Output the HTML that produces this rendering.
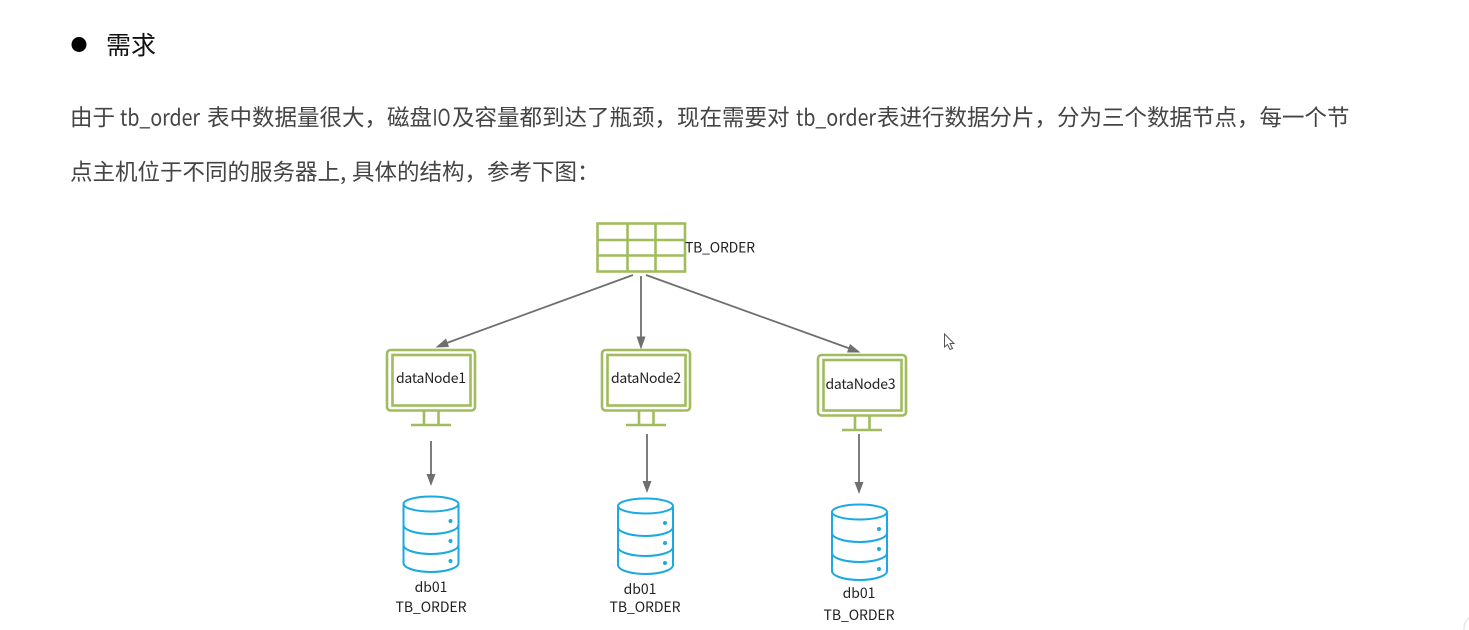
<!DOCTYPE html>
<html lang="zh">
<head>
<meta charset="utf-8">
<title>需求</title>
<style>
html,body{margin:0;padding:0;background:#fff;width:1469px;height:630px;overflow:hidden}
svg{display:block;filter:blur(.35px)}
text{font-family:"Noto Sans CJK SC","Liberation Sans",sans-serif}
.p{font-size:22.5px;fill:#444}
.l{font-size:14px;fill:#222}
.n{font-size:14px;fill:#222;text-anchor:middle}
.g{fill:none;stroke:#a1bc5e;stroke-width:2.6}
.a{stroke:#6f6f6f;stroke-width:1.8;fill:none}
.h{fill:#6f6f6f}
.c{fill:none;stroke:#1ba9e1;stroke-width:2}
.d{fill:#1ba9e1}
</style>
</head>
<body>
<svg width="1469" height="630" viewBox="0 0 1469 630" xmlns="http://www.w3.org/2000/svg">
<defs>
<g id="mon">
  <rect x="1" y="1" width="88" height="60.5" rx="3.5" class="g" fill="#fff"/>
  <rect x="6.5" y="6" width="78" height="50.5" class="g"/>
  <path d="M38 62V75.5M52.5 62V75.5M25 76H65" class="g"/>
</g>
<g id="cyl">
  <ellipse cx="28" cy="8" rx="27.500" ry="7.500" class="c"/>
  <path d="M.5 8V67C.5 72 13 76 28 76S55.500 72 55.500 67V8" class="c"/>
  <path d="M.5 29C.5 34 13 38 28 38S55.500 34 55.500 29" class="c"/>
  <path d="M.5 49C.5 54 13 58 28 58S55.500 54 55.500 49" class="c"/>
  <circle cx="47.500" cy="25" r="2" class="d"/>
  <circle cx="47.500" cy="45" r="2" class="d"/>
  <circle cx="47.500" cy="65" r="2" class="d"/>
</g>
</defs>

<circle cx="79" cy="44.500" r="7.500" fill="#000"/>
<text x="106" y="54" font-size="25" fill="#111" textLength="50" lengthAdjust="spacing">需求</text>

<!-- line 1 -->
<text class="p" x="70" y="125.500">由于</text>
<text class="p" x="120" y="125.500" textLength="80" lengthAdjust="spacingAndGlyphs">tb_order</text>
<text class="p" x="207" y="125.500">表中数据量很大，磁盘</text>
<text class="p" x="432.500" y="125.500" textLength="18" lengthAdjust="spacingAndGlyphs">IO</text>
<text class="p" x="452" y="125.500">及容量都到达了瓶颈，现在需要对</text>
<text class="p" x="796" y="125.500" textLength="80" lengthAdjust="spacingAndGlyphs">tb_order</text>
<text class="p" x="877" y="125.500">表进行数据分片，分为三个数据节点，每一个节</text>

<!-- line 2 -->
<text class="p" x="70" y="180">点主机位于不同的服务器上</text>
<text class="p" x="340" y="180">,</text>
<text class="p" x="352" y="180">具体的结构，参考下图：</text>

<!-- table -->
<rect x="597.500" y="223.500" width="87.500" height="48" class="g"/>
<path d="M627.500 223.500V271.500M655.500 223.500V271.500M597.500 240H685M597.500 255.500H685" class="g"/>
<text class="l" x="685" y="252.500" textLength="70" lengthAdjust="spacing">TB_ORDER</text>

<!-- upper connectors -->
<path d="M633 275L444 344" class="a"/>
<path d="M435.500 347.500L446 338.500L449 347Z" class="h"/>
<path d="M641 276V338" class="a"/>
<path d="M641 349.500L636.500 336.500H645.500Z" class="h"/>
<path d="M646 275L851 349" class="a"/>
<path d="M860.500 352.500L847 352.500L850 344Z" class="h"/>

<!-- monitors -->
<use href="#mon" x="386" y="349"/>
<use href="#mon" x="601" y="349"/>
<use href="#mon" x="817" y="354"/>
<text class="n" x="431" y="383" textLength="70" lengthAdjust="spacing">dataNode1</text>
<text class="n" x="646" y="383" textLength="70" lengthAdjust="spacing">dataNode2</text>
<text class="n" x="860.500" y="389" textLength="70" lengthAdjust="spacing">dataNode3</text>

<!-- lower connectors -->
<path d="M431 441V476" class="a"/><path d="M431 486L426.500 474H435.500Z" class="h"/>
<path d="M647 434V483" class="a"/><path d="M647 493L642.500 481H651.500Z" class="h"/>
<path d="M859 434V484" class="a"/><path d="M859 494L854.500 482H863.500Z" class="h"/>

<!-- databases -->
<use href="#cyl" x="403" y="496"/>
<use href="#cyl" x="617.500" y="498"/>
<use href="#cyl" x="831.500" y="504"/>

<text class="n" x="431" y="592">db01</text>
<text class="n" x="431" y="612" textLength="71" lengthAdjust="spacing">TB_ORDER</text>
<text class="n" x="640" y="594">db01</text>
<text class="n" x="645" y="612" textLength="71" lengthAdjust="spacing">TB_ORDER</text>
<text class="n" x="859" y="598">db01</text>
<text class="n" x="859" y="620" textLength="71" lengthAdjust="spacing">TB_ORDER</text>

<!-- cursor -->
<path d="M944.500 334V347L947.500 344.500L950 349.500L952.500 348.500L950 343.500H954Z" fill="#fff" stroke="#555" stroke-width="1"/>

<!-- faint corner arc -->
<path d="M1464 630C1464 624 1466 620 1469 618" fill="none" stroke="#e8e8e8" stroke-width="1.500"/>
</svg>
</body>
</html>
